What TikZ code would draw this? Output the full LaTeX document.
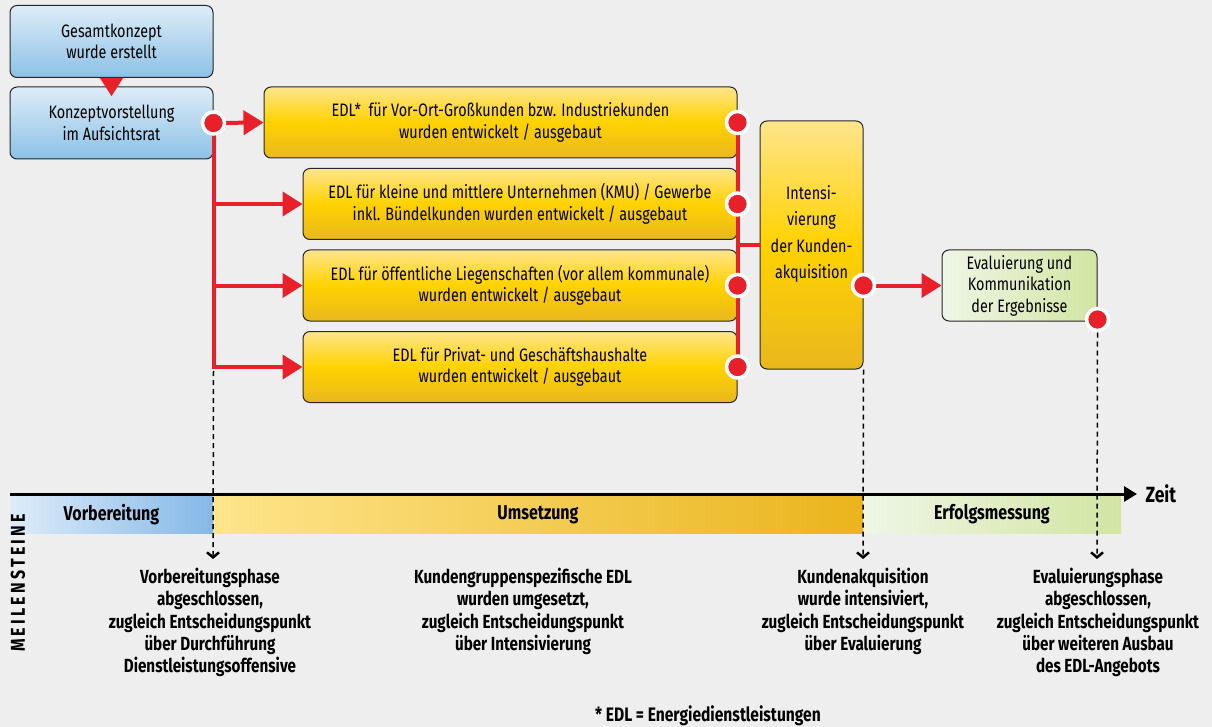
\documentclass[tikz,border=0pt]{standalone}
\usepackage{fontspec}
\setmainfont{Fira Sans}[FakeStretch=0.8]
\usetikzlibrary{arrows.meta,positioning,calc}

\definecolor{bggray}{HTML}{EEEEEE}
\definecolor{edlred}{HTML}{E8202A}
\definecolor{blueTop}{HTML}{DDECF8}
\definecolor{blueBot}{HTML}{8CC1E6}
\definecolor{yelTop}{HTML}{FEE58C}
\definecolor{yelMid}{HTML}{FFD200}
\definecolor{yelBot}{HTML}{E9B71E}
\definecolor{grnL}{HTML}{EEF6E6}
\definecolor{grnR}{HTML}{D2E5A2}

\tikzset{
  boxbase/.style={draw=black!85, line width=1pt, rounded corners=7pt, align=center,
    inner sep=0pt, font=\fontsize{18}{21.5}\selectfont},
  bluebox/.style={boxbase, top color=blueTop, bottom color=blueBot,
    minimum width=203pt, minimum height=72pt},
  yellowbox/.style={boxbase, top color=yelTop, bottom color=yelBot, middle color=yelMid,
    minimum height=71pt},
  greenbox/.style={boxbase, left color=grnL, right color=grnR},
  redline/.style={draw=edlred, line width=4pt},
  redarrow/.style={redline, -{Triangle[length=20pt,width=24pt]}},
  reddot/.style={circle, fill=edlred, draw=white, line width=3.5pt, minimum size=22pt, inner sep=0pt},
  phase/.style={inner sep=0pt, minimum height=37pt, font=\fontsize{20}{20}\selectfont\bfseries},
  milestone/.style={draw=black, line width=1.5pt, dash pattern=on 5pt off 4pt,
    -{Straight Barb[length=5pt,width=12pt,line width=2.5pt]}},
  mstext/.style={anchor=north, align=center, inner sep=0pt, font=\fontsize{19}{22.3}\selectfont\bfseries}
}

\begin{document}
\begin{tikzpicture}[x=1pt, y=-1pt]
    \useasboundingbox (0,0) rectangle (1212,727);
    \fill[bggray] (0,0) rectangle (1212,727);

    % Vorbereitung
    \node[bluebox] (gesamt) at (111.5,41.5) {Gesamtkonzept\\wurde erstellt};
    \node[bluebox] (konzept) at (111.5,123) {Konzeptvorstellung\\im Aufsichtsrat};
    \draw[edlred, line width=0.1pt, -{Triangle[length=18pt,width=23pt]}] (gesamt.south) -- ++(0,18);

    % Umsetzung: EDL je Kundengruppe
    \node[yellowbox, minimum width=473pt] (edlA) at (500.5,122.5)
        {EDL*\ \ für Vor-Ort-Großkunden bzw. Industriekunden\\wurden entwickelt / ausgebaut};
    \node[yellowbox, minimum width=434pt] (edlB) at (520,204)
        {EDL für kleine und mittlere Unternehmen (KMU) / Gewerbe\\inkl. Bündelkunden wurden entwickelt / ausgebaut};
    \node[yellowbox, minimum width=434pt] (edlC) at (520,285.5)
        {EDL für öffentliche Liegenschaften (vor allem kommunale)\\wurden entwickelt / ausgebaut};
    \node[yellowbox, minimum width=434pt] (edlD) at (520,367)
        {EDL für Privat- und Geschäftshaushalte\\wurden entwickelt / ausgebaut};
    \node[yellowbox, minimum width=103pt, minimum height=248pt, font=\fontsize{18}{26.5}\selectfont] (intens) at (811.5,245)
        {Intensi-\\vierung\\der Kunden-\\akquisition\\~};
    \node[greenbox, minimum width=155pt, minimum height=71pt] (eval) at (1019.5,285.5)
        {Evaluierung und\\Kommunikation\\der Ergebnisse};

    % Verbindungspunkte
    \coordinate (dK) at (konzept.east);
    \coordinate (dA) at (edlA.east);
    \coordinate (dB) at (edlB.east);
    \coordinate (dC) at (edlC.east);
    \coordinate (dD) at (edlD.east);
    \coordinate (dI) at (intens.east |- eval.west);
    \coordinate (dE) at ($(eval.south east)+(0,-2)$);

    % rote Verbindungen
    \draw[redarrow] (dK) -- (edlA.west);
    \foreach \edl in {edlB, edlC, edlD}
        \draw[redarrow] (dK) |- (\edl.west);
    \draw[redline] (dA) -- (dD);
    \draw[redline] (intens.west) -- (intens.west -| dA);
    \draw[redarrow] (dI) -- (eval.west);
    \foreach \d in {dK, dA, dB, dC, dD, dI, dE}
        \node[reddot] at (\d) {};

    % Zeitachse
    \node[phase, minimum width=203pt, left color=blueTop, right color=blueBot!95!blue] (vorb) at (111.5,514.5) {Vorbereitung};
    \node[phase, minimum width=650pt, left color=yelTop, middle color=yelMid, right color=yelBot!95!orange] (ums) at (538,514.5) {Umsetzung};
    \node[phase, minimum width=258pt, left color=grnL, right color=grnR] (erf) at (992,514.5) {Erfolgsmessung};
    \coordinate (t0) at (10,494);
    \coordinate (t1) at (1137,494);
    \draw[line width=3pt, -{Triangle[length=13pt,width=15pt]}] (t0) -- (t1);
    \node[right=5pt of t1, font=\fontsize{22}{22}\selectfont\bfseries] (zeit) {Zeit};
    \node[rotate=90, font=\fontsize{20}{20}\selectfont\bfseries\addfontfeature{LetterSpace=16}] (meil) at (18,583) {MEILENSTEINE};

    % Meilensteine
    \coordinate (m1) at (213,559);
    \coordinate (m2) at (863,559);
    \coordinate (m3) at (1097,559);
    \draw[milestone] ($(dK |- dD)+(0,4)$) -- (m1);
    \draw[milestone] (intens.south east) -- (m2);
    \draw[milestone] ($(dE)+(0,13)$) -- (m3);

    \node[mstext] (ms1) at (210,568) {Vorbereitungsphase\\abgeschlossen,\\zugleich Entscheidungspunkt\\über Durchführung\\Dienstleistungsoffensive};
    \node[mstext] (ms2) at (523,568) {Kundengruppenspezifische EDL\\wurden umgesetzt,\\zugleich Entscheidungspunkt\\über Intensivierung};
    \node[mstext] (ms3) at (863,568) {Kundenakquisition\\wurde intensiviert,\\zugleich Entscheidungspunkt\\über Evaluierung};
    \node[mstext] (ms4) at (1098,568) {Evaluierungsphase\\abgeschlossen,\\zugleich Entscheidungspunkt\\über weiteren Ausbau\\des EDL-Angebots};

    \node[font=\fontsize{19.5}{19.5}\selectfont\bfseries] (fn) at (708,716) {* EDL = Energiedienstleistungen};
\end{tikzpicture}
\end{document}
